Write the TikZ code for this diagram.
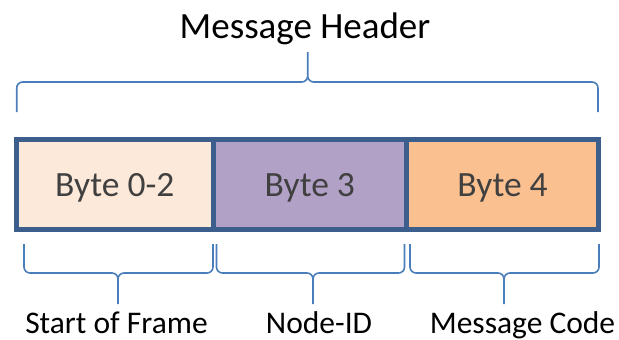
\documentclass[tikz,border=0pt]{standalone}
\usepackage{fontspec}
\setmainfont{Carlito}
\usepackage{tikz}
\usetikzlibrary{positioning}

\definecolor{frameblue}{HTML}{3B5E8C}
\definecolor{braceblue}{HTML}{4A7EBB}
\definecolor{peach}{HTML}{FDE9D9}
\definecolor{lilac}{HTML}{B2A1C7}
\definecolor{apricot}{HTML}{FAC090}
\definecolor{textgray}{HTML}{404040}

\tikzset{
  bytebox/.style={draw=frameblue, line width=5pt, rectangle, outer sep=0pt,
    minimum height=90.5pt, inner sep=0pt, text=textgray,
    font=\fontsize{35.5}{42}\selectfont, text height=23pt, text depth=0pt},
  brace/.style={draw=braceblue, line width=1.6pt, rounded corners=6pt},
  lbl/.style={font=\fontsize{31.5}{38}\selectfont, anchor=base, inner sep=0pt}
}

% x1, x2, xtip, yend, yline, ytip
\newcommand{\fieldbrace}[6]{%
  \draw[brace] (#1,#4) -- (#1,#5) -- (#3,#5) -- (#3,#6)
               (#2,#4) -- (#2,#5) -- (#3,#5) -- (#3,#6);
}

\begin{document}
\begin{tikzpicture}[x=1pt,y=-1pt]
  \useasboundingbox (0,0) rectangle (619,340);

  % header
  \node[font=\fontsize{37}{44}\selectfont, anchor=base, inner sep=0pt] (hdr) at (305,38.3) {Message Header};
  \fieldbrace{16.7}{598}{307.7}{112}{82}{52}

  % the bytes
  \node[bytebox, fill=peach, minimum width=196.5pt] (b02) at (114.75,184.5) {Byte 0-2};
  \node[bytebox, fill=lilac, minimum width=193.5pt, anchor=west] (b3) at (b02.east) {Byte 3};
  \node[bytebox, fill=apricot, minimum width=192pt, anchor=west] (b4) at (b3.east) {Byte 4};

  % fields
  \fieldbrace{24}{213}{118}{244}{273}{304}
  \fieldbrace{216.5}{404.5}{313}{244}{273}{304}
  \fieldbrace{410}{599}{504}{244}{273}{304}

  \node[lbl] (sof) at (116.5,333) {Start of Frame};
  \node[lbl] (nid) at (319,333) {Node-ID};
  \node[lbl] (code) at (522.5,333) {Message Code};
\end{tikzpicture}
\end{document}
